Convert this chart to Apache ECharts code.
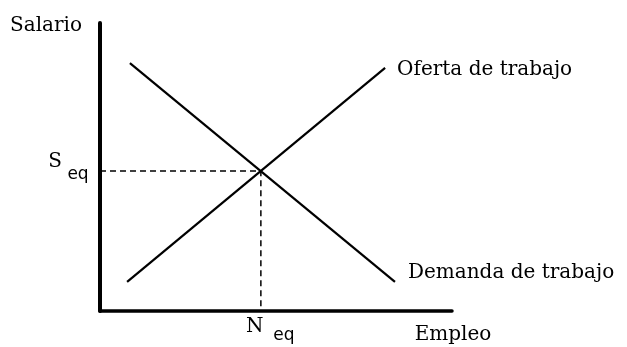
<!DOCTYPE html>
<html>
<head>
<meta charset="utf-8">
<script src="https://cdn.jsdelivr.net/npm/echarts@6/dist/echarts.min.js"></script>
<style>
html,body{margin:0;padding:0;background:#fff;}
#chart{width:627px;height:347px;}
</style>
</head>
<body>
<div id="chart"></div>
<script>
// Data (in abstract units)
const axisNames = ['Empleo', 'Salario'];
const seriesNames = ['Oferta de trabajo', 'Demanda de trabajo'];
const ofertaPoints = [[7.7, 10.1], [81.0, 84.4]];
const demandaPoints = [[8.5, 86.1], [83.8, 10.1]];
const equilibrium = [45.7, 48.6];
const eqLabels = ['S', 'N', 'eq'];

const serif = '"DejaVu Serif", serif';
const sans = '"DejaVu Sans", sans-serif';

const chart = echarts.init(document.getElementById('chart'), null, {renderer: 'canvas'});

function lbl(text, font, size, offset) {
  return {
    show: true, position: 'inside', align: 'center', verticalAlign: 'middle',
    formatter: text, fontFamily: font, fontSize: size, color: '#000', offset: offset
  };
}

chart.setOption({
  animation: false,
  backgroundColor: '#ffffff',
  grid: {left: 100, top: 23, right: 175, bottom: 36},
  xAxis: {
    type: 'value', min: 0, max: 100,
    name: axisNames[0], nameLocation: 'end', nameGap: 0,
    nameTextStyle: {fontFamily: serif, fontSize: 20, color: '#000', align: 'center', verticalAlign: 'top', padding: [14, 0, 0, 2]},
    axisLine: {show: true, onZero: false, lineStyle: {color: '#000', width: 3.5}},
    axisTick: {show: false}, axisLabel: {show: false}, splitLine: {show: false}
  },
  yAxis: {
    type: 'value', min: 0, max: 100,
    name: axisNames[1], nameLocation: 'end', nameGap: 7,
    nameTextStyle: {fontFamily: serif, fontSize: 20, color: '#000', align: 'right', verticalAlign: 'top', padding: [0, 18, 0, 0]},
    axisLine: {show: true, onZero: false, lineStyle: {color: '#000', width: 4}},
    axisTick: {show: false}, axisLabel: {show: false}, splitLine: {show: false}
  },
  series: [
    {
      name: 'guides', type: 'line', symbol: 'none', silent: true,
      data: [[0, equilibrium[1]], [equilibrium[0], equilibrium[1]], [equilibrium[0], 0]],
      lineStyle: {color: '#000', width: 1.5, type: [6, 4]}
    },
    {
      name: seriesNames[0], type: 'line', symbol: 'none', data: ofertaPoints,
      lineStyle: {color: '#000', width: 2.2},
      endLabel: {show: true, formatter: seriesNames[0], fontFamily: serif, fontSize: 20, color: '#000', distance: 12, offset: [0, 2]}
    },
    {
      name: seriesNames[1], type: 'line', symbol: 'none', data: demandaPoints,
      lineStyle: {color: '#000', width: 2.2},
      endLabel: {show: true, formatter: seriesNames[1], fontFamily: serif, fontSize: 20, color: '#000', distance: 13, offset: [0, -9]}
    },
    {
      name: 'eqLabels', type: 'scatter', symbolSize: 0, silent: true,
      itemStyle: {opacity: 1},
      data: [
        {value: [0, equilibrium[1]], label: lbl(eqLabels[0], serif, 20, [-45, -9])},
        {value: [0, equilibrium[1]], label: lbl(eqLabels[2], sans, 17, [-22, 4])},
        {value: [equilibrium[0], 0], label: lbl(eqLabels[1], serif, 20, [-6, 16])},
        {value: [equilibrium[0], 0], label: lbl(eqLabels[2], sans, 17, [23, 25])}
      ]
    }
  ]
});
</script>
</body>
</html>
